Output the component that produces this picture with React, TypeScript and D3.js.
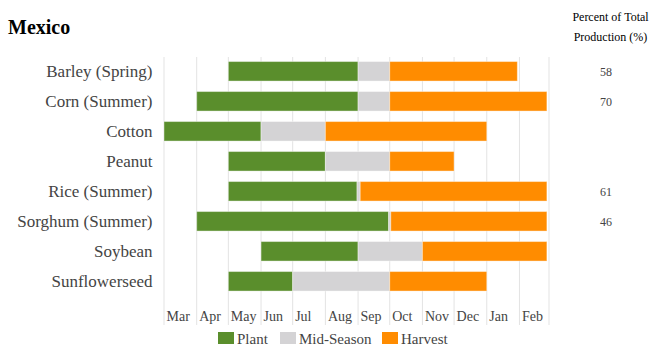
import React from "react";
import * as d3 from "d3";

const crops = ["Barley (Spring)", "Corn (Summer)", "Cotton", "Peanut", "Rice (Summer)", "Sorghum (Summer)", "Soybean", "Sunflowerseed"];
const plantStart = ["2021-05-01", "2021-04-01", "2021-03-01", "2021-05-01", "2021-05-01", "2021-04-01", "2021-06-01", "2021-05-01"];
const plantEnd = ["2021-09-01", "2021-09-01", "2021-06-01", "2021-08-01", "2021-08-31", "2021-09-30", "2021-09-01", "2021-07-01"];
const midStart = ["2021-09-01", "2021-09-01", "2021-06-01", "2021-08-01", "2021-08-31", "2021-09-30", "2021-09-01", "2021-07-01"];
const midEnd = ["2021-10-01", "2021-10-01", "2021-08-01", "2021-10-01", "2021-09-03", "2021-10-02", "2021-11-01", "2021-10-01"];
const harvestStart = ["2021-10-01", "2021-10-01", "2021-08-01", "2021-10-01", "2021-09-03", "2021-10-02", "2021-11-01", "2021-10-01"];
const harvestEnd = ["2022-01-30", "2022-02-27", "2022-01-01", "2021-12-01", "2022-02-27", "2022-02-27", "2022-02-27", "2022-01-01"];
const percents: (number | null)[] = [58, 70, null, null, 61, 46, null, null];
const monthLabels = ["Mar", "Apr", "May", "Jun", "Jul", "Aug", "Sep", "Oct", "Nov", "Dec", "Jan", "Feb"];
const stageNames = ["Plant", "Mid-Season", "Harvest"];
const stageColors = ["#5a8e2c", "#d4d3d5", "#ff8c00"];

const parse = d3.timeParse("%Y-%m-%d");

export default function App() {
  const W = 656, H = 361;
  const x = d3.scaleTime().domain([parse("2021-03-01")!, parse("2022-03-01")!]).range([164, 549]);
  const y = d3.scaleBand<string>().domain(crops).range([56.3, 296.3]).paddingInner(0.35).paddingOuter(0.175);
  const months = x.ticks(d3.timeMonth.every(1)!).slice(0, 12);
  const gridDates = x.ticks(d3.timeMonth.every(1)!);
  const serif = "'Liberation Serif', 'Times New Roman', serif";
  const stages = [
    [plantStart, plantEnd],
    [midStart, midEnd],
    [harvestStart, harvestEnd],
  ];
  const legendX = [218, 280, 382];
  return (
    <svg width={W} height={H} style={{ position: "absolute", left: 0, top: 0, fontFamily: serif }}>
      <text x={8} y={34} fontSize={20} fontWeight="bold" fill="#000">Mexico</text>
      <text x={610.5} y={21} fontSize={12} textAnchor="middle" fill="#000">Percent of Total</text>
      <text x={610.5} y={41} fontSize={12} textAnchor="middle" fill="#000">Production (%)</text>
      {gridDates.map((d, i) => (
        <line key={i} x1={x(d)} x2={x(d)} y1={57} y2={325} stroke="#e3e3e3" strokeWidth={1} />
      ))}
      {crops.map((c, i) => (
        <g key={c}>
          <text x={152.5} y={y(c)! + y.bandwidth() / 2} dy="0.35em" fontSize={17} textAnchor="end" fill="#444">{c}</text>
          {stages.map((s, k) => {
            const x0 = x(parse(s[0][i])!);
            const x1 = x(parse(s[1][i])!);
            return (
              <rect key={k} x={x0} y={y(c)!} width={Math.max(0, x1 - x0)} height={y.bandwidth()}
                fill={stageColors[k]} stroke="#fff" strokeOpacity={0.4} strokeWidth={1} />
            );
          })}
          {percents[i] != null && (
            <text x={606} y={y(c)! + y.bandwidth() / 2} dy="0.35em" fontSize={12} textAnchor="middle" fill="#444">{percents[i]}</text>
          )}
        </g>
      ))}
      {months.map((m, i) => (
        <text key={i} x={x(m) + 2.5} y={321} fontSize={14} fill="#444">{monthLabels[i]}</text>
      ))}
      {stageNames.map((n, i) => (
        <g key={n}>
          <rect x={legendX[i]} y={332} width={16} height={12} fill={stageColors[i]} />
          <text x={legendX[i] + 19} y={343.5} fontSize={15} fill="#444">{n}</text>
        </g>
      ))}
    </svg>
  );
}
